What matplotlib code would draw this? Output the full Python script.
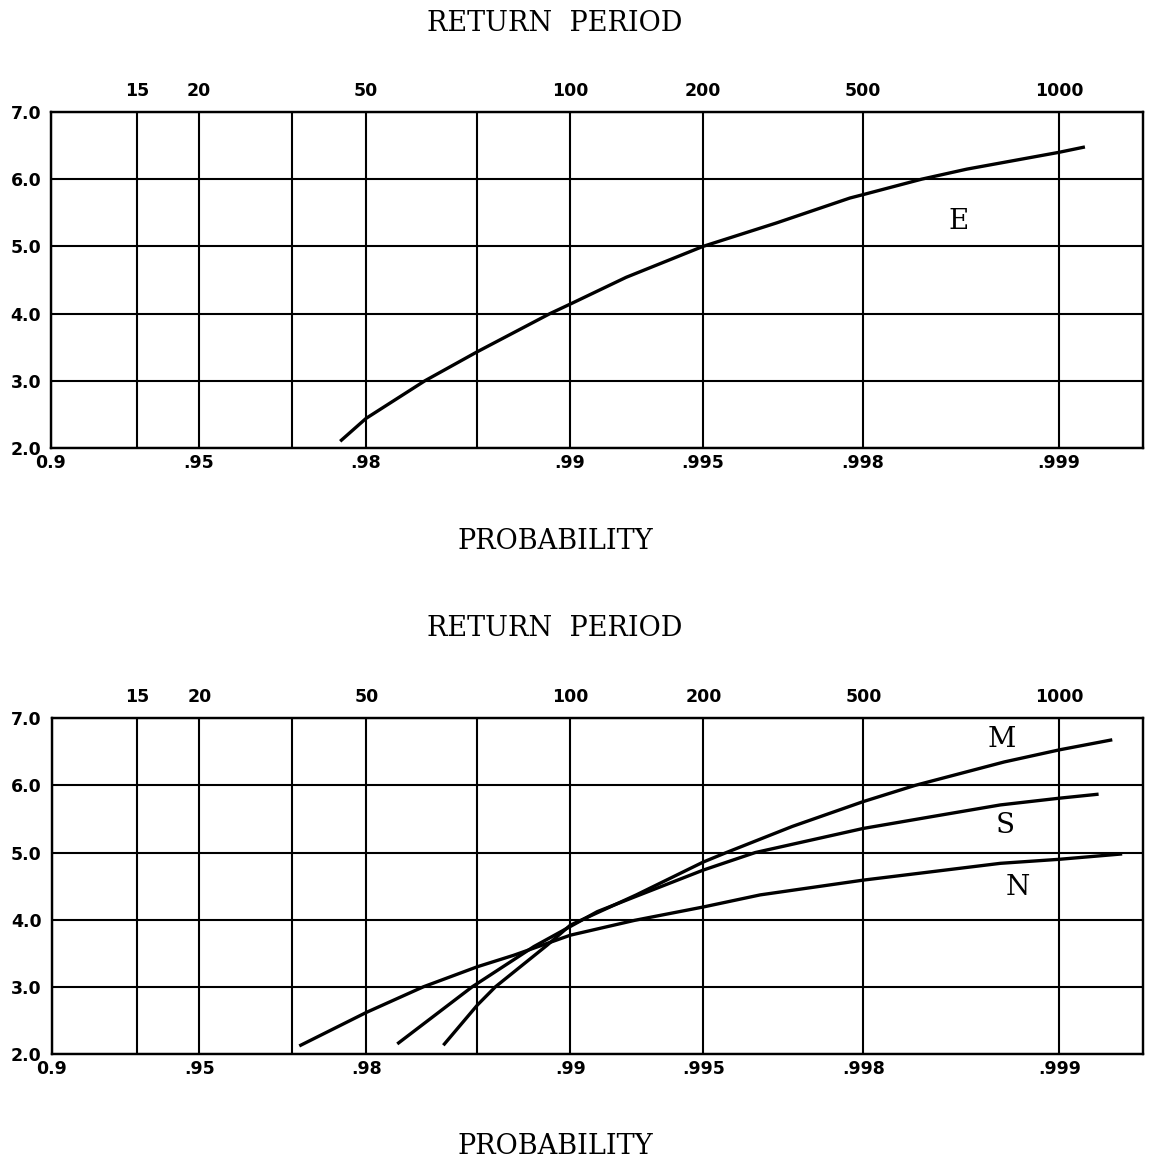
import numpy as np
import matplotlib
matplotlib.use("Agg")
import matplotlib.pyplot as plt

# ---------------- data ----------------
# gridline return periods and their labels
GRID_RP = [10, 15, 20, 33.33, 50, 71.4, 100, 200, 500, 1000]
PROB_LABELS = ["0.9", "", ".95", "", ".98", "", ".99", ".995", ".998", ".999"]
RP_LABELS = ["", "15", "20", "", "50", "", "100", "200", "500", "1000"]
Y_TICKS = [2.0, 3.0, 4.0, 5.0, 6.0, 7.0]

# upper panel: curve E  (return period, value)
E_RP = [43.4, 50, 60.4, 71.4, 93, 100, 134, 200, 305, 464, 500, 615, 722, 1000, 1096]
E_VAL = [2.10, 2.44, 3.00, 3.43, 4.00, 4.14, 4.54, 5.00, 5.35, 5.72, 5.77, 6.00, 6.15, 6.40, 6.48]

# lower panel: curves M, S, N
M_RP = [64.0, 71.4, 76.2, 91.9, 100, 141, 200, 228, 333, 500, 600, 823, 1000, 1206]
M_VAL = [2.13, 2.73, 3.00, 3.62, 3.92, 4.37, 4.86, 5.00, 5.39, 5.76, 6.00, 6.35, 6.53, 6.68]

S_RP = [55.2, 70.2, 87.6, 100, 115, 141, 200, 269, 500, 641, 812, 1000, 1149]
S_VAL = [2.15, 3.00, 3.60, 3.90, 4.12, 4.35, 4.74, 5.00, 5.36, 5.54, 5.71, 5.81, 5.87]

N_RP = [34.6, 50, 60.0, 71.4, 81.4, 100, 139.6, 200, 277, 500, 812, 1000, 1249]
N_VAL = [2.12, 2.62, 3.00, 3.30, 3.47, 3.77, 3.99, 4.19, 4.37, 4.59, 4.84, 4.90, 4.98]

# curve label positions (return period, value)
LABELS_TOP = [("E", 700, 5.37)]
LABELS_BOT = [("M", 815, 6.69), ("S", 826, 5.41), ("N", 862, 4.48)]

# ---------------- probability-paper scale ----------------
_U = np.log10(np.array(GRID_RP, float))
_POS = np.array([0, 86, 148, 241, 315, 426, 519, 652, 812, 1008], float)
# linear extension beyond the end knots
_sl0 = (_POS[1] - _POS[0]) / (_U[1] - _U[0])
_sl1 = (_POS[-1] - _POS[-2]) / (_U[-1] - _U[-2])
_U = np.concatenate([[_U[0] - 2], _U, [_U[-1] + 3]])
_POS = np.concatenate([[_POS[0] - 2 * _sl0], _POS, [_POS[-1] + 3 * _sl1]])


def fwd(p):
    p = np.asarray(p, float)
    u = -np.log10(np.clip(1.0 - p, 1e-9, 10.0))
    return np.interp(u, _U, _POS)


def inv(x):
    u = np.interp(np.asarray(x, float), _POS, _U)
    return 1.0 - 10.0 ** (-u)


def prob(rp):
    return 1.0 - 1.0 / np.asarray(rp, float)


P_LEFT = 0.9
P_RIGHT = 1.0 - 10 ** (-3.129)

W, H = 1149, 1158
fig = plt.figure(figsize=(W / 100, H / 100), dpi=100)

TICKFONT = dict(family="DejaVu Sans", weight="bold", size=12.5)
SERIF = "DejaVu Serif"


def make_panel(rect, curves, labels):
    ax = fig.add_axes(rect)
    ax.set_xscale("function", functions=(fwd, inv))
    ax.set_xlim(P_LEFT, P_RIGHT)
    ax.set_ylim(2, 7)
    ticks = prob(GRID_RP)
    ax.set_xticks(ticks)
    ax.set_xticklabels(PROB_LABELS, fontdict=TICKFONT)
    ax.set_yticks(Y_TICKS)
    ax.set_yticklabels([f"{v:.1f}" for v in Y_TICKS], fontdict=TICKFONT)
    ax.xaxis.set_minor_locator(matplotlib.ticker.NullLocator())
    ax.tick_params(axis="x", length=0, pad=4.5)
    ax.tick_params(axis="y", length=0, pad=7)
    ax.grid(True, color="black", lw=1.5)
    for s in ax.spines.values():
        s.set_linewidth(1.6)
    for rp, val in curves:
        ax.plot(prob(rp), val, color="black", lw=2.4, solid_capstyle="butt", zorder=3)
    for txt, rp, val in labels:
        ax.text(prob(rp), val, txt, family=SERIF, size=20, ha="center", va="center")

    ax2 = ax.twiny()
    ax2.set_xscale("function", functions=(fwd, inv))
    ax2.set_xlim(P_LEFT, P_RIGHT)
    ax2.set_xticks(ticks)
    ax2.set_xticklabels(RP_LABELS, fontdict=TICKFONT)
    ax2.xaxis.set_minor_locator(matplotlib.ticker.NullLocator())
    ax2.tick_params(axis="x", length=0, pad=8.5)
    for s in ax2.spines.values():
        s.set_linewidth(1.6)
    return ax


# upper panel: axes from x 51..1143 px, y 112..448 px
make_panel([51 / W, 1 - 448 / H, (1143 - 51) / W, (448 - 112) / H],
           [(E_RP, E_VAL)], LABELS_TOP)
# lower panel: y 718..1054 px
make_panel([51.5 / W, 1 - 1054 / H, (1143.3 - 51.5) / W, (1054 - 718.3) / H],
           [(M_RP, M_VAL), (S_RP, S_VAL), (N_RP, N_VAL)], LABELS_BOT)

TX = 555 / W
for ypix, txt in [(31, "RETURN  PERIOD"), (549, "PROBABILITY"),
                  (636, "RETURN  PERIOD"), (1154, "PROBABILITY")]:
    fig.text(TX, 1 - ypix / H, txt, family=SERIF, size=19.5,
             ha="center", va="baseline")

fig.savefig("out.png", dpi=100)
